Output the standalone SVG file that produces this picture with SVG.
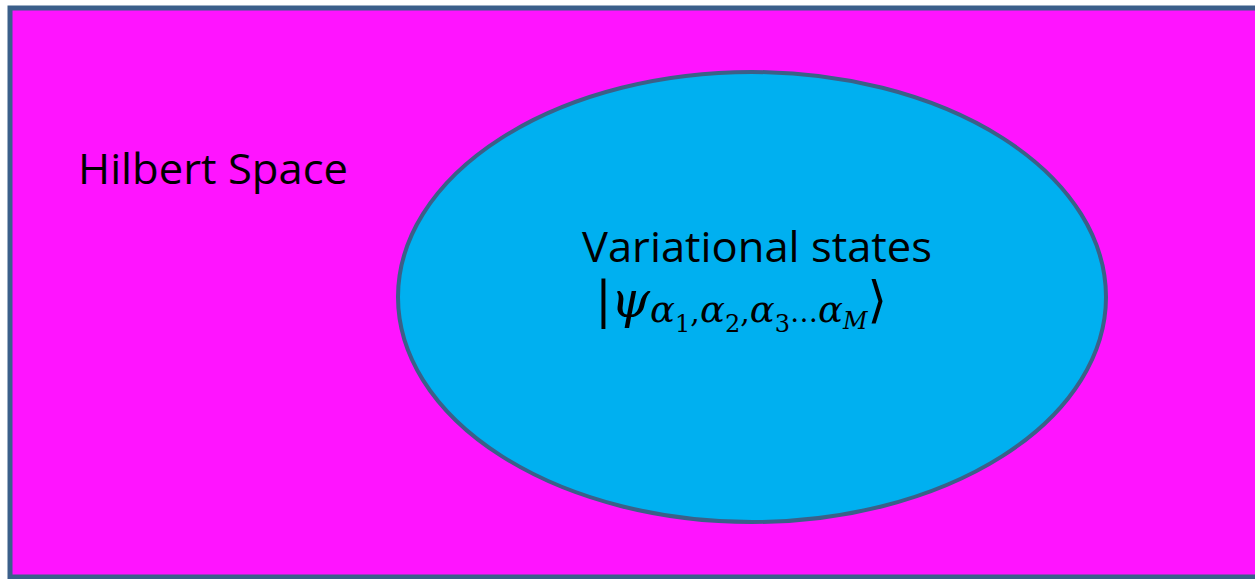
<svg xmlns="http://www.w3.org/2000/svg" width="1255" height="579" viewBox="0 0 1255 579">
<style>
.lbl{font-family:"Open Sans","Liberation Sans",sans-serif;font-size:42px;fill:#000}
.math{font-family:"DejaVu Serif","Liberation Serif",serif;fill:#000}
.i{font-style:italic}
</style>
<rect width="1255" height="579" fill="#ffffff"/>
<g id="hilbert">
<rect x="10" y="8" width="1260" height="569" fill="#ff14ff" stroke="#3b5f8a" stroke-width="5"/>
<text class="lbl" x="78" y="184" textLength="270" lengthAdjust="spacingAndGlyphs">Hilbert Space</text>
</g>
<g id="variational">
<ellipse cx="752" cy="297" rx="354" ry="225" fill="#00b0f0" stroke="#3b6088" stroke-width="4"/>
<text class="lbl" x="582" y="262" textLength="350" lengthAdjust="spacingAndGlyphs">Variational states</text>
<text class="math" x="595" y="317" font-size="50">|<tspan class="i" dx="-1">ψ</tspan><tspan class="i" font-size="37" dy="5">α</tspan><tspan font-size="24" dy="10">1</tspan><tspan font-size="30" dy="-10">,</tspan><tspan class="i" font-size="37">α</tspan><tspan font-size="24" dy="10">2</tspan><tspan font-size="30" dy="-10">,</tspan><tspan class="i" font-size="37">α</tspan><tspan font-size="24" dy="10">3</tspan><tspan font-size="28" dy="-10">…</tspan><tspan class="i" font-size="37">α</tspan><tspan class="i" font-size="24" dy="7">M</tspan><tspan font-size="50" dy="-12">⟩</tspan></text>
</g>
</svg>
